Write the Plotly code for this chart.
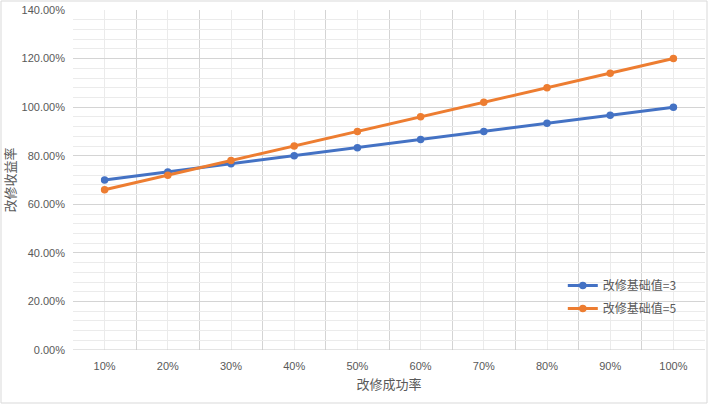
import plotly.graph_objects as go

categories = ["10%", "20%", "30%", "40%", "50%", "60%", "70%", "80%", "90%", "100%"]
series1_name = "改修基础值=3"
series1 = [0.70, 0.7333, 0.7667, 0.80, 0.8333, 0.8667, 0.90, 0.9333, 0.9667, 1.00]
series2_name = "改修基础值=5"
series2 = [0.66, 0.72, 0.78, 0.84, 0.90, 0.96, 1.02, 1.08, 1.14, 1.20]
y_ticks = [0, 0.2, 0.4, 0.6, 0.8, 1.0, 1.2, 1.4]

pos = list(range(1, len(categories) + 1))

W, H = 708, 404
ml, mr, mt, mb = 73, 3, 10, 54

fig = go.Figure()
fig.add_trace(go.Scatter(x=pos, y=series1, name=series1_name, mode="lines+markers",
                         legendgroup="a",
                         line=dict(color="#4472C4", width=3),
                         marker=dict(color="#4472C4", size=7.5)))
fig.add_trace(go.Scatter(x=pos, y=series2, name=series2_name, mode="lines+markers",
                         legendgroup="b",
                         line=dict(color="#ED7D31", width=3),
                         marker=dict(color="#ED7D31", size=7.5)))

tickfont = dict(family="Liberation Sans, Noto Sans CJK SC", size=11, color="#595959")

fig.update_layout(
    width=W, height=H,
    margin=dict(l=ml, r=mr, t=mt, b=mb),
    paper_bgcolor="white", plot_bgcolor="white",
    font=dict(family="Noto Sans CJK SC, Liberation Sans", color="#595959"),
    xaxis=dict(
        range=[0.5, len(categories) + 0.5],
        tickmode="array", tickvals=pos, ticktext=categories,
        tickfont=tickfont,
        showgrid=True, gridcolor="#ebebeb", gridwidth=1,
        minor=dict(tickmode="linear", tick0=0.5, dtick=1, showgrid=True,
                   gridcolor="#d4d4d4", gridwidth=1),
        zeroline=False, showline=False, ticks="",
        ticklabelstandoff=8,
        title=dict(text="改修成功率", font=dict(size=13, color="#595959"), standoff=8),
        fixedrange=True,
    ),
    yaxis=dict(
        range=[0, 1.4],
        tickmode="array", tickvals=y_ticks, tickformat=".2%",
        tickfont=tickfont,
        showgrid=True, gridcolor="#d4d4d4", gridwidth=1,
        minor=dict(tickmode="linear", tick0=0, dtick=0.04, showgrid=True,
                   gridcolor="#ebebeb", gridwidth=1),
        zeroline=False, showline=False, ticks="",
        ticklabelstandoff=7,
        title=dict(text="改修收益率", font=dict(size=13, color="#595959"), standoff=4),
        fixedrange=True,
    ),
    legend=dict(x=0.775, y=0.232, xanchor="left", yanchor="top",
                bgcolor="rgba(0,0,0,0)", tracegroupgap=4, traceorder="grouped",
                font=dict(family="Noto Sans CJK SC", size=12, color="#595959")),
    shapes=[
        dict(type="line", xref="paper", yref="y", x0=0, x1=1, y0=0, y1=0,
             line=dict(color="#c8c8c8", width=1)),
        dict(type="rect", xref="paper", yref="paper",
             x0=-(ml - 1) / (W - ml - mr), x1=1 + (mr - 1) / (W - ml - mr),
             y0=-(mb - 1) / (H - mt - mb), y1=1 + (mt - 1) / (H - mt - mb),
             line=dict(color="#d9d9d9", width=1)),
    ],
)

fig.write_html("out.html")
